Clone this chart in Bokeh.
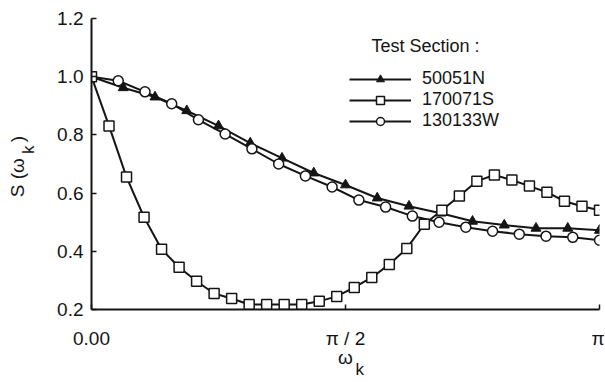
import numpy as np
from bokeh.plotting import figure
from bokeh.models import (FixedTicker, Label, Legend, LegendItem, Range1d,
                          PrintfTickFormatter, LinearAxis)
from bokeh.embed import file_html
from bokeh.resources import INLINE

# ---- data ----
series_names = ["50051N", "170071S", "130133W"]
s_50051N = [1.000, 0.962, 0.930, 0.883, 0.831, 0.772, 0.720, 0.669, 0.628,
            0.583, 0.555, 0.531, 0.503, 0.490, 0.479, 0.479, 0.472]
s_170071S = [1.000, 0.831, 0.655, 0.517, 0.407, 0.345, 0.297, 0.255, 0.238,
             0.217, 0.217, 0.217, 0.217, 0.228, 0.245, 0.276, 0.310, 0.355,
             0.410, 0.493, 0.541, 0.590, 0.641, 0.662, 0.645, 0.624, 0.603,
             0.572, 0.555, 0.541]
s_130133W = [1.000, 0.986, 0.948, 0.907, 0.852, 0.803, 0.752, 0.700, 0.659,
             0.621, 0.576, 0.552, 0.521, 0.500, 0.483, 0.469, 0.459, 0.452,
             0.448, 0.438]
x_ticks = [0.0, np.pi / 2, np.pi]
x_tick_labels = ["0.00", "π / 2", "π"]
y_ticks = [0.2, 0.4, 0.6, 0.8, 1.0, 1.2]


def omegas(vals):
    return np.linspace(0.0, np.pi, len(vals))


FONT = "Liberation Sans"
INK = "#151515"
NB = "\u00a0"
BL, BT, FW, FH, BB, BR = 91, 18, 508, 291, 64, 5

p = figure(frame_width=FW, frame_height=FH,
           x_range=Range1d(0, np.pi), y_range=Range1d(0.2, 1.2),
           output_backend="svg", toolbar_location=None,
           min_border_left=BL, min_border_right=BR, min_border_top=BT,
           min_border_bottom=BB)
p.outline_line_color = None
p.grid.visible = False
p.background_fill_color = "white"
p.border_fill_color = "white"

for ax in (p.xaxis[0], p.yaxis[0]):
    ax.axis_line_width = 2
    ax.axis_line_color = INK
    ax.major_tick_in = 5
    ax.major_tick_out = 0
    ax.major_tick_line_width = 1.5
    ax.major_tick_line_color = INK
    ax.minor_tick_line_color = None
    ax.major_label_text_font = FONT
    ax.major_label_text_font_size = "19px"
    ax.major_label_text_color = INK
    ax.axis_label_text_font = FONT
    ax.axis_label_text_font_style = "normal"
    ax.axis_label_text_color = INK

p.xaxis.ticker = FixedTicker(ticks=x_ticks)
p.xaxis.major_label_overrides = dict(zip(x_ticks, x_tick_labels))
p.xaxis.major_label_standoff = 18
p.yaxis.ticker = FixedTicker(ticks=y_ticks)
p.yaxis.formatter = PrintfTickFormatter(format="%.1f")
p.yaxis.major_label_standoff = 8

# axis labels: S(ω_k) and ω_k, subscripts on the inner / outer axis
p.yaxis.axis_label = NB * 6 + "k"
p.yaxis.axis_label_text_font_size = "17px"
p.yaxis.axis_label_standoff = 16
p.xaxis.axis_label = "ω"
p.xaxis.axis_label_text_font_size = "19px"
p.xaxis.axis_label_standoff = -5


def label_axis(text, size, standoff):
    a = LinearAxis(ticker=FixedTicker(ticks=[]), axis_line_color=None,
                   major_tick_line_color=None, minor_tick_line_color=None,
                   axis_label=text, axis_label_standoff=standoff,
                   axis_label_text_font=FONT, axis_label_text_font_size=size,
                   axis_label_text_font_style="normal",
                   axis_label_text_color=INK)
    return a


p.add_layout(label_axis("S (ω" + NB * 3 + ")" + NB, "19px", -11), "left")
p.add_layout(label_axis(NB * 6 + "k", "17px", -11), "below")

# ---- series ----
lw = 2
x_t = omegas(s_50051N)
x_c = omegas(s_130133W)
x_s = omegas(s_170071S)

l_t = p.line(x_t, s_50051N, line_color=INK, line_width=lw)
m_t = p.scatter(x_t, s_50051N, marker="triangle", size=10, fill_color=INK,
                line_color=INK, line_width=1)
l_c = p.line(x_c, s_130133W, line_color=INK, line_width=lw)
m_c = p.scatter(x_c, s_130133W, marker="circle", size=10, fill_color="white",
                line_color=INK, line_width=1.5)
l_s = p.line(x_s, s_170071S, line_color=INK, line_width=lw)
m_s = p.scatter(x_s, s_170071S, marker="square", size=10, fill_color="white",
                line_color=INK, line_width=1.5)

legend = Legend(items=[
    LegendItem(label=series_names[0], renderers=[l_t, m_t]),
    LegendItem(label=series_names[1], renderers=[l_s, m_s]),
    LegendItem(label=series_names[2], renderers=[l_c, m_c]),
], location=(258, 178))
legend.glyph_width = 62
legend.glyph_height = 20
legend.label_height = 20
legend.label_standoff = 11
legend.spacing = 0
legend.padding = 0
legend.margin = 0
legend.border_line_color = None
legend.background_fill_alpha = 0
legend.label_text_font = FONT
legend.label_text_font_size = "18px"
legend.label_text_color = INK
p.add_layout(legend, "center")

# legend heading, inside the frame
p.add_layout(Label(x=(372 - 92) * np.pi / 508, y=0.2 + (310 - 47) / 290,
                   text="Test Section :", text_font=FONT,
                   text_font_size="18px", text_color=INK,
                   text_baseline="middle", text_align="left"))

open("out.html", "w").write(file_html(p, INLINE))
